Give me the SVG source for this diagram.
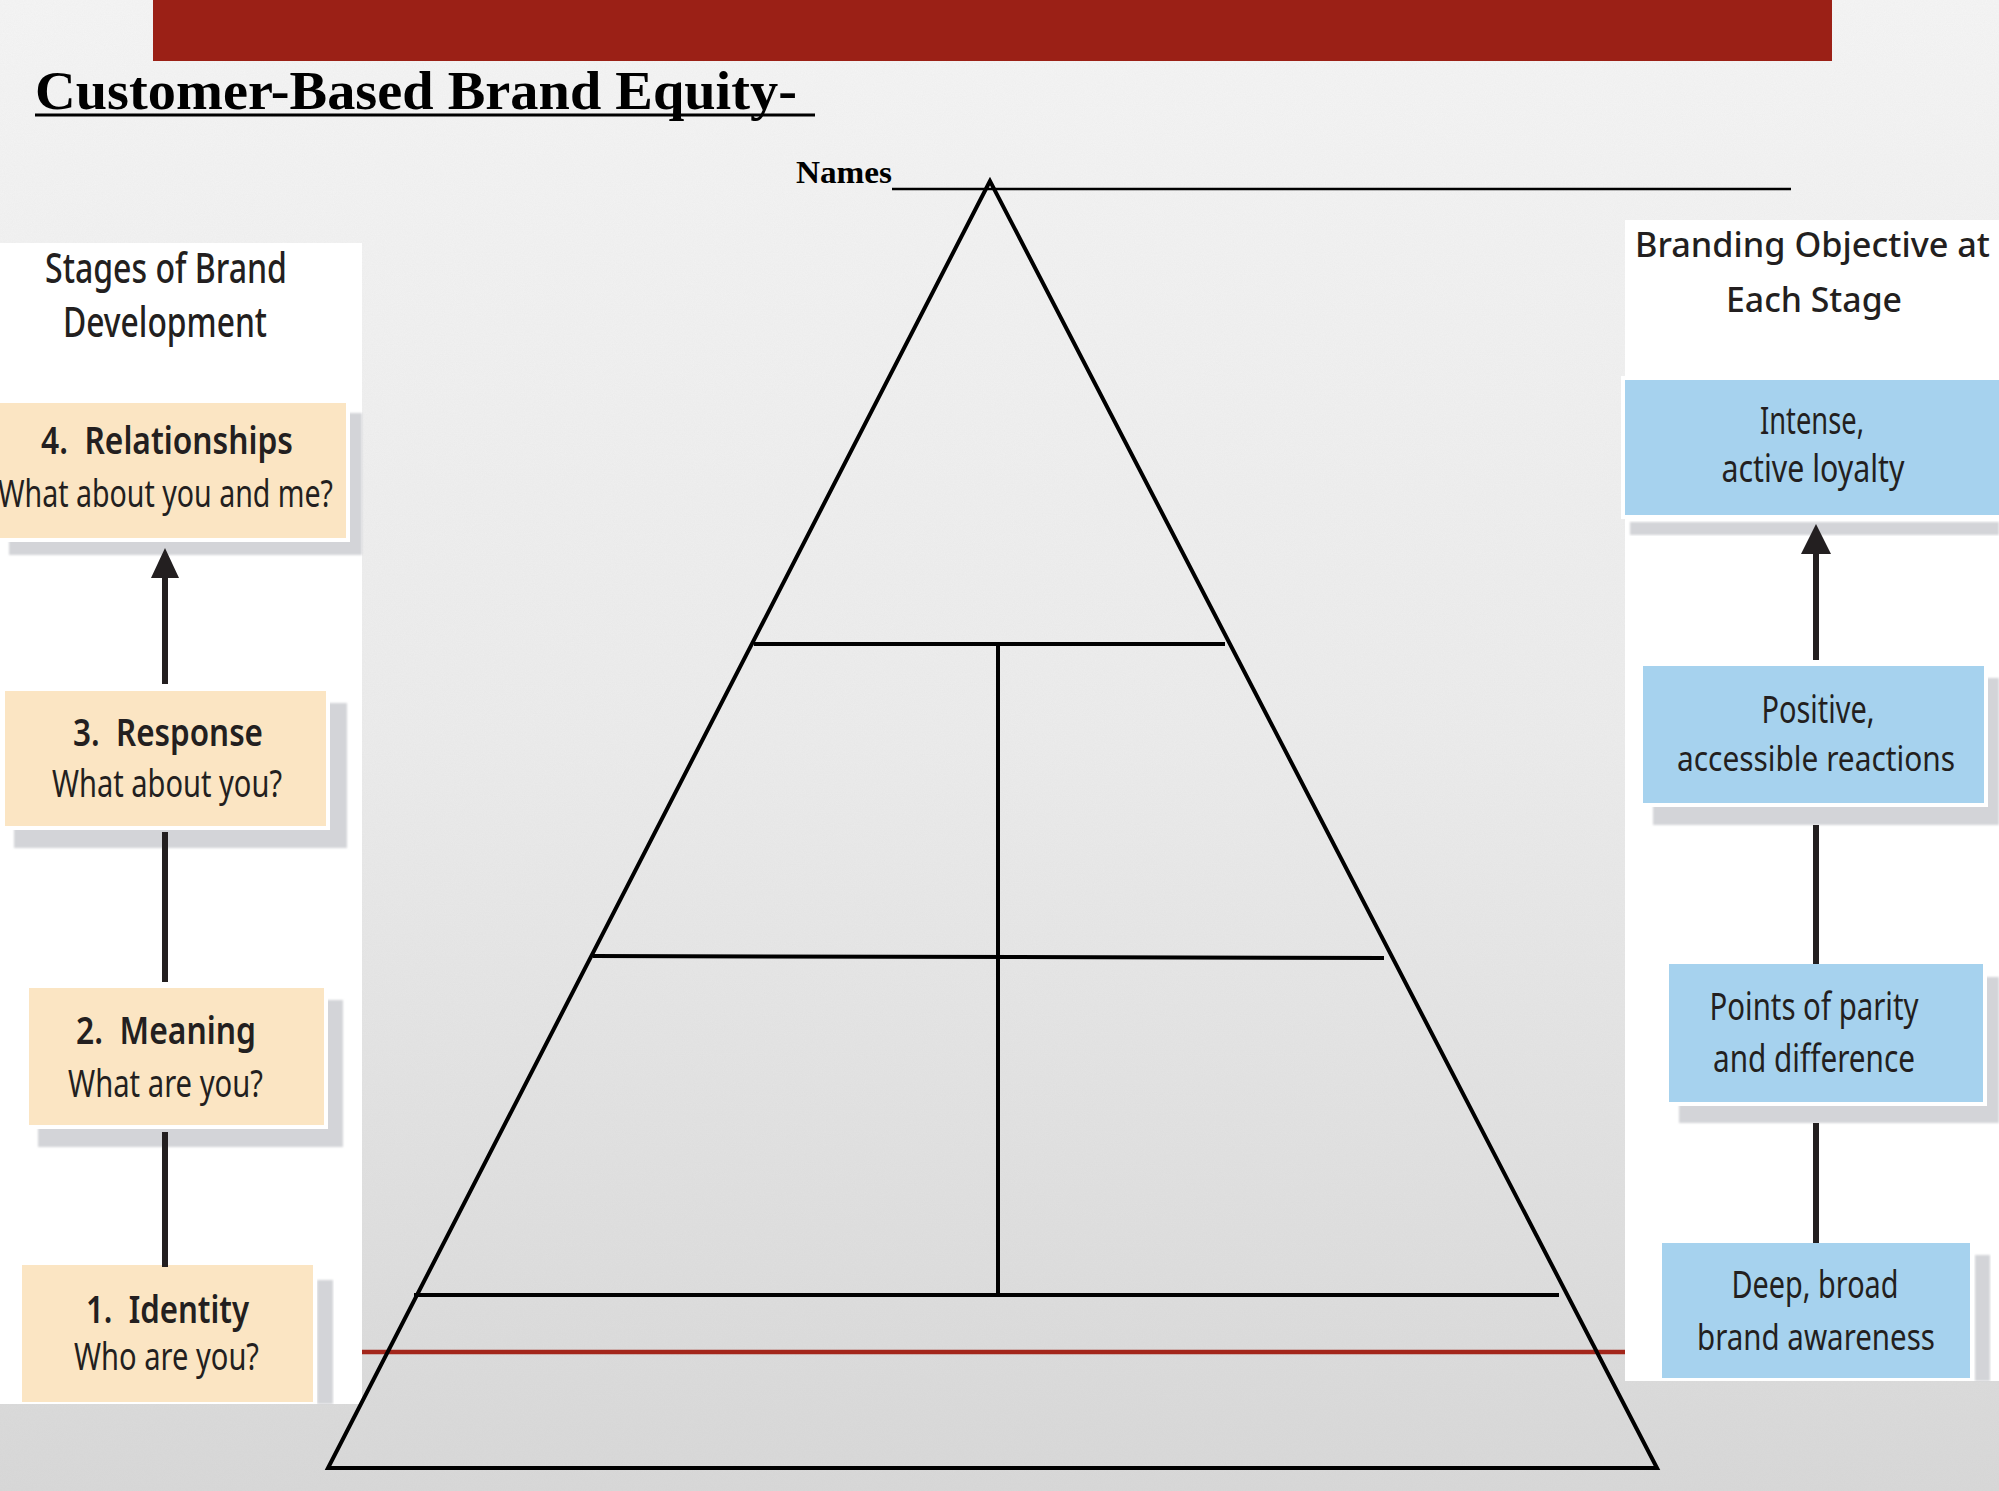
<svg xmlns="http://www.w3.org/2000/svg" width="1999" height="1491" viewBox="0 0 1999 1491">
<defs>
<linearGradient id="bg" x1="0" y1="0" x2="0" y2="1">
<stop offset="0" stop-color="#f5f5f5"/>
<stop offset="0.5" stop-color="#ececec"/>
<stop offset="1" stop-color="#d8d8d8"/>
</linearGradient>
<filter id="noise" x="0" y="0" width="100%" height="100%">
<feTurbulence type="fractalNoise" baseFrequency="0.9" numOctaves="2" seed="3"/>
<feColorMatrix type="matrix" values="0 0 0 0 0.5  0 0 0 0 0.5  0 0 0 0 0.5  0 0 0 0.10 0"/>
</filter>
<filter id="soft" x="-5%" y="-5%" width="110%" height="110%">
<feGaussianBlur stdDeviation="1.2"/>
</filter>
</defs>
<style>
.title{font-family:"Liberation Serif","Times New Roman",serif;font-weight:bold;fill:#000}
.lbl{font-family:"Noto Sans","Open Sans",sans-serif;fill:#231f20}
.mid{text-anchor:middle}
.hdr{font-size:41px;font-weight:500}
.hdr2{font-size:35px;font-weight:500}
.t{font-size:37px;font-weight:600;white-space:pre}
.s{font-size:38px}
.b{font-size:38px}
.beige{fill:#fbe5c3}
.blue{fill:#a6d2ee}
.shadow{fill:#d3d4d8;filter:url(#soft)}
.edge{stroke:#000;stroke-width:4;fill:none}
.conn{stroke:#231f20;stroke-width:6;fill:none}
</style>

<g id="background">
<rect x="0" y="0" width="1999" height="1491" fill="url(#bg)"/>
<rect x="0" y="0" width="1999" height="1491" filter="url(#noise)"/>
</g>

<g id="header">
<rect x="153" y="0" width="1679" height="61" fill="#9b2016"/>
<text class="title" x="35" y="109" font-size="55" textLength="762" lengthAdjust="spacingAndGlyphs">Customer-Based Brand Equity-</text>
<line x1="35" y1="115" x2="815" y2="115" stroke="#000" stroke-width="3"/>
<text class="title" x="796" y="183" font-size="31" textLength="96" lengthAdjust="spacingAndGlyphs">Names</text>
<line x1="892" y1="189" x2="1791" y2="189" stroke="#000" stroke-width="2.5"/>
</g>

<g id="panel-left">
<rect x="0" y="243" width="362" height="1161" fill="#ffffff"/>
<text class="lbl hdr" x="45" y="283" textLength="242" lengthAdjust="spacingAndGlyphs">Stages of Brand</text>
<text class="lbl hdr" x="63" y="337" textLength="204" lengthAdjust="spacingAndGlyphs">Development</text>
</g>

<g id="panel-right">
<rect x="1625" y="220" width="374" height="1161" fill="#ffffff"/>
<text class="lbl hdr2" x="1635" y="257" textLength="355" lengthAdjust="spacingAndGlyphs">Branding Objective at</text>
<text class="lbl hdr2 mid" x="1814" y="312" textLength="176" lengthAdjust="spacingAndGlyphs">Each Stage</text>
</g>

<g id="red-rule">
<line x1="362" y1="1352" x2="1625" y2="1352" stroke="#a3261b" stroke-width="4.5"/>
</g>

<g id="pyramid">
<polygon class="edge" points="990,181 328,1468 1657,1468"/>
<line class="edge" x1="754" y1="644" x2="1225" y2="644"/>
<line class="edge" x1="593" y1="956" x2="1384" y2="958"/>
<line class="edge" x1="414" y1="1295" x2="1559" y2="1295"/>
<line class="edge" x1="998" y1="645" x2="998" y2="1295"/>
</g>

<g id="stage-4">
<rect class="shadow" x="9" y="413" width="353" height="142"/>
<rect x="-4" y="399" width="354" height="143" fill="#fff"/>
<rect class="beige" x="0" y="403" width="346" height="135"/>
<text class="lbl t" x="41" y="454" textLength="252" lengthAdjust="spacingAndGlyphs">4.  Relationships</text>
<text class="lbl s" x="-2" y="507" textLength="335" lengthAdjust="spacingAndGlyphs">What about you and me?</text>
</g>

<g id="stage-3">
<rect class="shadow" x="14" y="703" width="333" height="145"/>
<rect x="1" y="687" width="329" height="143" fill="#fff"/>
<rect class="beige" x="5" y="691" width="321" height="135"/>
<text class="lbl t" x="73" y="746" textLength="190" lengthAdjust="spacingAndGlyphs">3.  Response</text>
<text class="lbl s" x="52" y="797" textLength="230" lengthAdjust="spacingAndGlyphs">What about you?</text>
</g>

<g id="stage-2">
<rect class="shadow" x="38" y="1000" width="305" height="147"/>
<rect x="25" y="984" width="303" height="145" fill="#fff"/>
<rect class="beige" x="29" y="988" width="295" height="137"/>
<text class="lbl t" x="76" y="1044" textLength="180" lengthAdjust="spacingAndGlyphs">2.  Meaning</text>
<text class="lbl s" x="68" y="1097" textLength="195" lengthAdjust="spacingAndGlyphs">What are you?</text>
</g>

<g id="stage-1">
<rect class="shadow" x="317" y="1280" width="16" height="124"/>
<rect x="18" y="1261" width="299" height="143" fill="#fff"/>
<rect class="beige" x="22" y="1265" width="291" height="137"/>
<text class="lbl t" x="86" y="1323" textLength="163" lengthAdjust="spacingAndGlyphs">1.  Identity</text>
<text class="lbl s" x="74" y="1370" textLength="185" lengthAdjust="spacingAndGlyphs">Who are you?</text>
</g>

<g id="objective-4">
<rect class="shadow" x="1630" y="522" width="369" height="13"/>
<rect x="1621" y="376" width="378" height="143" fill="#fff"/>
<rect class="blue" x="1625" y="380" width="374" height="135"/>
<text class="lbl b mid" x="1812" y="434" textLength="104" lengthAdjust="spacingAndGlyphs">Intense,</text>
<text class="lbl b mid" x="1813" y="482" textLength="183" lengthAdjust="spacingAndGlyphs">active loyalty</text>
</g>

<g id="objective-3">
<rect class="shadow" x="1653" y="678" width="346" height="147"/>
<rect x="1639" y="662" width="349" height="145" fill="#fff"/>
<rect class="blue" x="1643" y="666" width="341" height="137"/>
<text class="lbl b mid" x="1818" y="723" textLength="113" lengthAdjust="spacingAndGlyphs">Positive,</text>
<text class="lbl mid" x="1816" y="771" font-size="34" textLength="278" lengthAdjust="spacingAndGlyphs">accessible reactions</text>
</g>

<g id="objective-2">
<rect class="shadow" x="1679" y="977" width="320" height="146"/>
<rect x="1665" y="960" width="322" height="146" fill="#fff"/>
<rect class="blue" x="1669" y="964" width="314" height="138"/>
<text class="lbl b mid" x="1814" y="1020" textLength="209" lengthAdjust="spacingAndGlyphs">Points of parity</text>
<text class="lbl b mid" x="1814" y="1072" textLength="202" lengthAdjust="spacingAndGlyphs">and difference</text>
</g>

<g id="objective-1">
<rect class="shadow" x="1975" y="1255" width="15" height="126"/>
<rect x="1658" y="1239" width="316" height="142" fill="#fff"/>
<rect class="blue" x="1662" y="1243" width="308" height="135"/>
<text class="lbl b mid" x="1815" y="1298" textLength="167" lengthAdjust="spacingAndGlyphs">Deep, broad</text>
<text class="lbl" x="1697" y="1350" font-size="37" textLength="238" lengthAdjust="spacingAndGlyphs">brand awareness</text>
</g>

<g id="connectors">
<line class="conn" x1="165" y1="574" x2="165" y2="684"/>
<polygon points="165,548 151,578 179,578" fill="#231f20"/>
<line class="conn" x1="165" y1="832" x2="165" y2="982"/>
<line class="conn" x1="165" y1="1132" x2="165" y2="1267"/>
<line class="conn" x1="1816" y1="550" x2="1816" y2="660"/>
<polygon points="1816,524 1801,554 1831,554" fill="#231f20"/>
<line class="conn" x1="1816" y1="825" x2="1816" y2="964"/>
<line class="conn" x1="1816" y1="1123" x2="1816" y2="1243"/>
</g>
</svg>
